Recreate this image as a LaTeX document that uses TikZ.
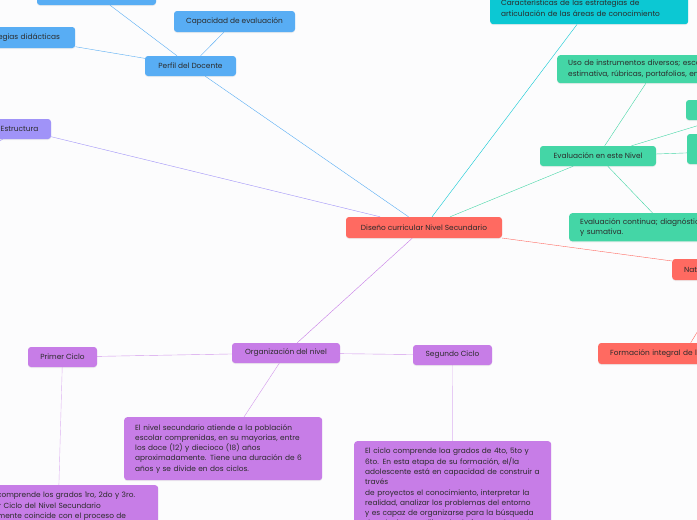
\documentclass[tikz,border=0pt]{standalone}
\usepackage{fontspec}
\setmainfont{Poppins}
\usetikzlibrary{backgrounds,shadows}

\definecolor{pagebg}{HTML}{FCFCFD}
\definecolor{txtgray}{HTML}{2B2B2B}
\definecolor{mapblue}{HTML}{58ADF4}
\definecolor{mapcyan}{HTML}{0CC8D3}
\definecolor{mapgreen}{HTML}{44D6A6}
\definecolor{mapred}{HTML}{FF6A61}
\definecolor{mappurple}{HTML}{C77DE7}
\definecolor{maplilac}{HTML}{A093F8}

\tikzset{
  topic/.style={rounded corners=3pt, inner sep=0pt, text=txtgray,
    font=\fontsize{7.4}{10.3}\selectfont,
    drop shadow={shadow xshift=0pt, shadow yshift=-1pt, opacity=0.12}},
  sidetopic/.style={topic, anchor=west, align=left, inner xsep=12pt},
  longtopic/.style={topic, anchor=north west, align=left,
    inner xsep=11pt, inner ysep=7pt},
  link/.style={line width=0.8pt}
}

\begin{document}
\begin{tikzpicture}[x=1pt, y=-1pt, line cap=round, line join=round]
  % page and margins
  \useasboundingbox (0,0) rectangle (697,520);
  \begin{scope}[on background layer]
    \fill[pagebg] (0,0) rectangle (697,520);
  \end{scope}
  \clip (0,0) rectangle (697,520);

  % central topic
  \node[topic, fill=mapred, minimum width=156pt, minimum height=21pt]
    (diseno) at (424,227.5) {Diseño curricular Nivel Secundario};

  % Perfil del Docente branch
  \node[topic, fill=mapblue, minimum width=91pt, minimum height=20pt]
    (perfil) at (190.5,66) {Perfil del Docente};
  \node[topic, fill=mapblue, minimum width=119pt, minimum height=20pt]
    (perfilA) at (96.5,-5) {};
  \node[topic, fill=mapblue, minimum width=121pt, minimum height=21pt]
    (capacidad) at (234.5,21.5) {Capacidad de evaluación};
  \node[sidetopic, fill=mapblue, text width=86pt, minimum height=21pt]
    (estrategias) at (-35,37.5) {Estrategias didácticas};

  % Estructura branch
  \node[topic, fill=maplilac, minimum width=63pt, minimum height=20pt]
    (estructura) at (19.5,129) {Estructura};
  \coordinate (estrA) at (-40,165);

  % articulacion
  \node[longtopic, fill=mapcyan, text width=176pt, minimum height=32pt]
    (articulacion) at (490,-8)
    {Características de las estrategias de\\articulación de las áreas de conocimiento};

  % Evaluacion branch
  \node[topic, fill=mapgreen, minimum width=116pt, minimum height=20pt]
    (evaluacion) at (598,156) {Evaluación en este Nivel};
  \node[longtopic, fill=mapgreen, text width=174pt, inner ysep=5pt]
    (instrumentos) at (557,55)
    {Uso de instrumentos diversos; escala\\estimativa, rúbricas, portafolios, entre otros.};
  \node[topic, fill=mapgreen, minimum width=126pt, minimum height=20pt]
    (evalA) at (749,110) {};
  \node[topic, fill=mapgreen, minimum width=226pt, minimum height=30pt]
    (evalB) at (800,149) {};
  \node[longtopic, fill=mapgreen, text width=172pt, inner ysep=5pt]
    (continua) at (569,213)
    {Evaluación continua; diagnóstica, formativa\\y sumativa.};

  % Naturaleza branch
  \node[sidetopic, fill=mapred, text width=102pt, minimum height=21pt]
    (naturaleza) at (672,269.5) {Naturaleza del Nivel};
  \node[sidetopic, fill=mapred, text width=148pt, minimum height=21pt]
    (formacion) at (598,353.5) {Formación integral de los estudiantes};

  % Organizacion branch
  \node[topic, fill=mappurple, minimum width=108pt, minimum height=20pt]
    (organizacion) at (286,353) {Organización del nivel};
  \node[topic, fill=mappurple, minimum width=69pt, minimum height=20pt]
    (primer) at (62.5,357) {Primer Ciclo};
  \node[topic, fill=mappurple, minimum width=79pt, minimum height=20pt]
    (segundo) at (452.5,355) {Segundo Ciclo};
  \node[longtopic, fill=mappurple, text width=176pt]
    (poblacion) at (124,417)
    {El nivel secundario atiende a la población\\
     escolar comprenidas, en su mayorias, entre\\
     los doce (12) y diecioco (18) años\\
     aproximadamente. Tiene una duración de 6\\
     años y se divide en dos ciclos.};
  \node[longtopic, fill=mappurple, text width=175pt]
    (cicloB) at (354,441)
    {El ciclo comprende loa grados de 4to, 5to y\\
     6to. En esta etapa de su formación, el/la\\
     adolescente está en capacidad de construir a\\
     través\\
     de proyectos el conocimiento, interpretar la\\
     realidad, analizar los problemas del entorno\\
     y es capaz de organizarse para la búsqueda\\
     de soluciones, utilizando de forma adecuada};
  \node[longtopic, fill=mappurple, text width=178pt, text depth=30pt]
    (cicloA) at (-42,485)
    {El ciclo comprende los grados 1ro, 2do y 3ro.\\
     El Primer Ciclo del Nivel Secundario\\
     generalmente coincide con el proceso de};

  % connectors
  \begin{scope}[on background layer, link]
    \draw[mapblue] (diseno) -- (perfil);
    \draw[mapblue] (perfil) -- (perfilA);
    \draw[mapblue] (perfil) -- (capacidad);
    \draw[mapblue] (perfil) -- (estrategias);
    \draw[maplilac] (diseno) -- (estructura);
    \draw[maplilac] (estructura) -- (estrA);
    \draw[mapcyan] (diseno) -- (articulacion);
    \draw[mapgreen] (diseno) -- (evaluacion);
    \draw[mapgreen] (evaluacion) -- (instrumentos);
    \draw[mapgreen] (evaluacion) -- (evalA);
    \draw[mapgreen] (evaluacion) -- (evalB);
    \draw[mapgreen] (evaluacion) -- (continua);
    \draw[mapred] (diseno) -- (naturaleza);
    \draw[mapred] (naturaleza) -- (formacion);
    \draw[mappurple] (diseno) -- (organizacion);
    \draw[mappurple!80] (organizacion) -- (primer);
    \draw[mappurple!80] (organizacion) -- (segundo);
    \draw[mappurple!80] (organizacion) -- (poblacion);
    \draw[mappurple!60] (primer) -- (cicloA);
    \draw[mappurple!60] (segundo) -- (cicloB);
  \end{scope}
\end{tikzpicture}
\end{document}
